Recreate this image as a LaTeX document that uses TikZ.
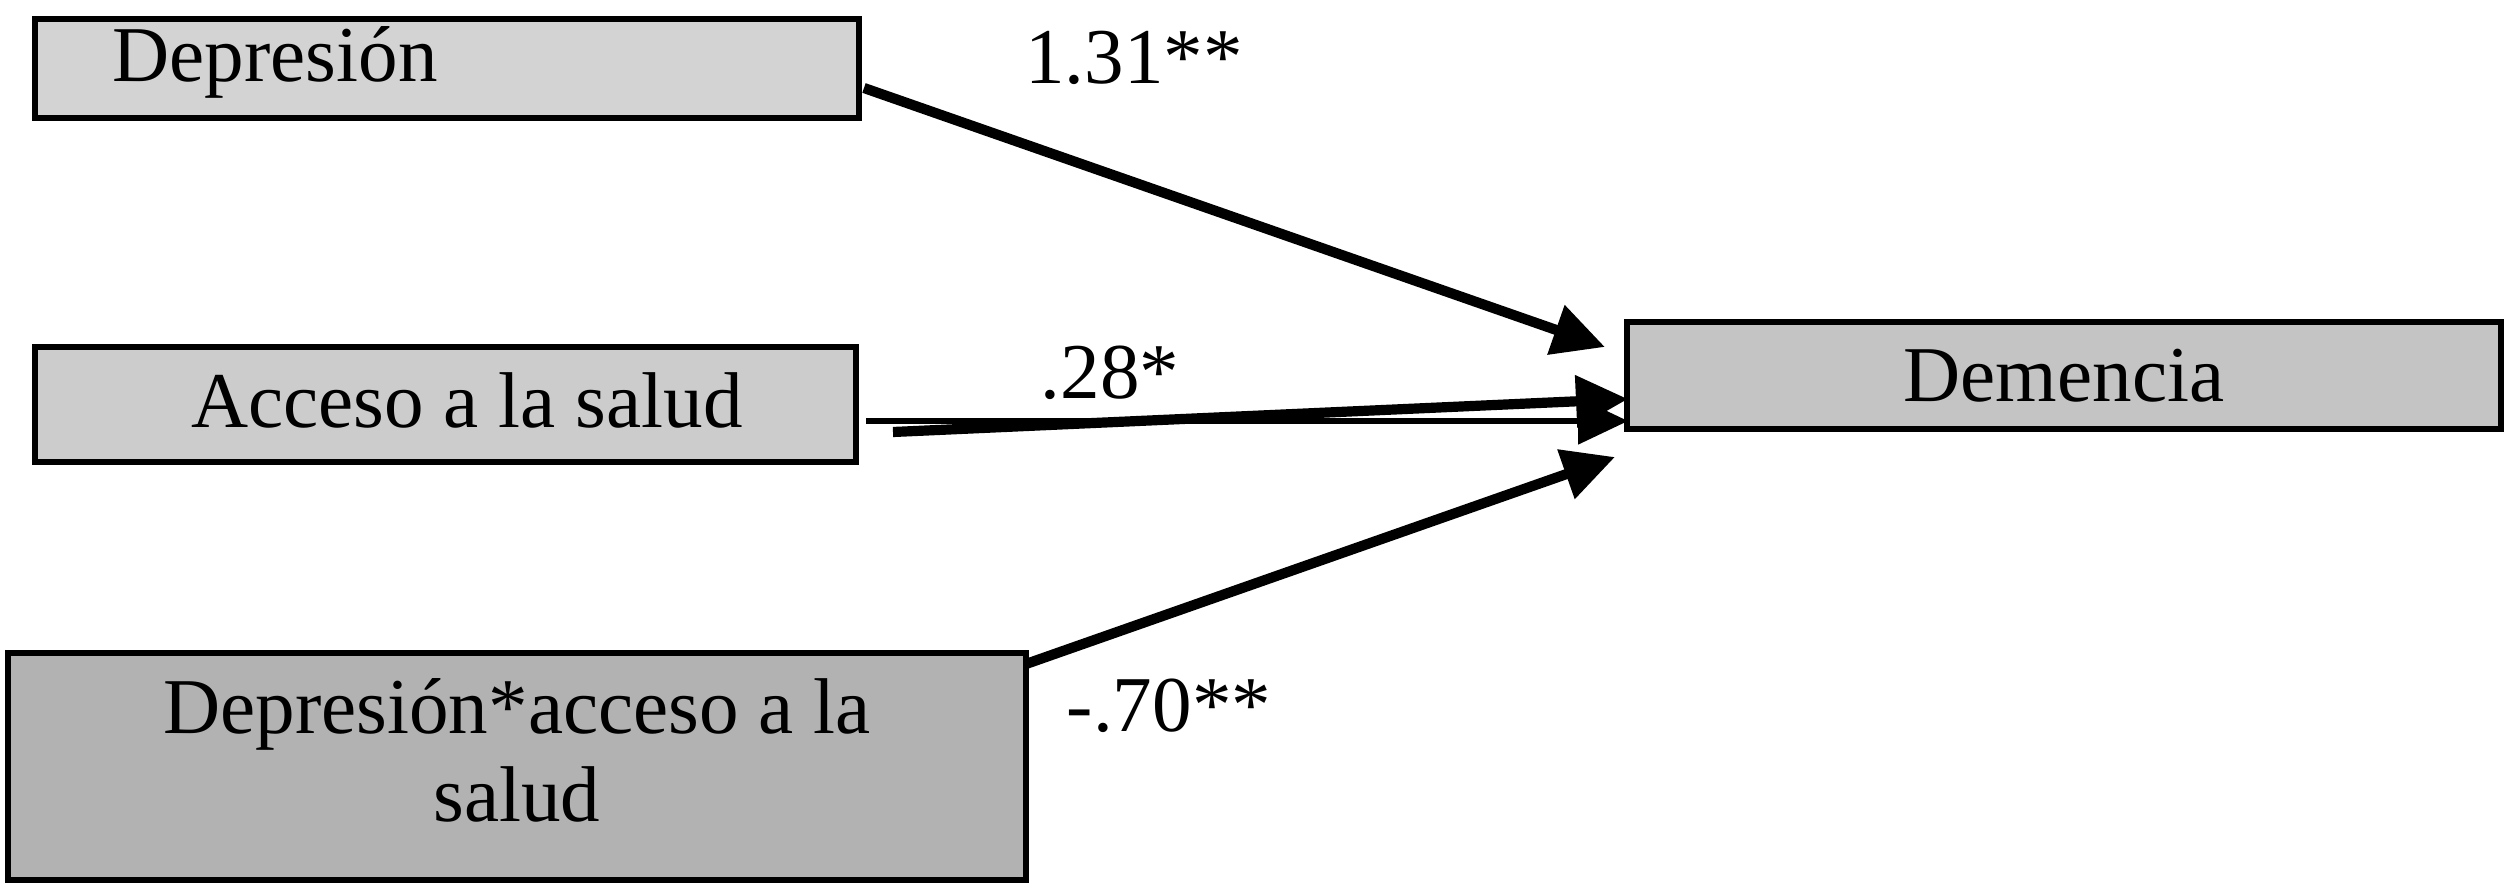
\documentclass[tikz,border=0pt]{standalone}
\usepackage{fontspec}
\setmainfont{Liberation Serif}
\usetikzlibrary{arrows.meta,calc}
\definecolor{boxA}{RGB}{211,211,211}
\definecolor{boxB}{RGB}{204,204,204}
\definecolor{boxC}{RGB}{196,196,196}
\definecolor{boxD}{RGB}{178,178,178}
\tikzset{
  varbox/.style={draw=black, line width=1.6pt, inner sep=0pt, rectangle},
  lbl/.style={font=\fontsize{22.5}{27}\selectfont, inner sep=0pt},
  pathline/.style={line width=2.9pt, -{Triangle[length=5.2mm,width=5mm]}},
  thinpath/.style={line width=1.5pt, -{Triangle[length=5mm,width=4.6mm]}}
}
\begin{document}
\begin{tikzpicture}[x=0.1mm,y=-0.1mm]
\useasboundingbox (0,0) rectangle (2508,888);
% boxes
\node[varbox, fill=boxA, minimum width=82.4mm, minimum height=9.9mm] (dep) at (447,68.5) {};
\node[lbl, anchor=west] (deptxt) at (112,62) {Depresión};
\node[varbox, fill=boxB, minimum width=82.1mm, minimum height=11.5mm] (acc) at (445.5,404.5) {};
\node[lbl] (acctxt) at (467,400) {Acceso a la salud};
\node[varbox, fill=boxD, minimum width=101.8mm, minimum height=22.7mm] (int) at (517,766.5) {};
\node[lbl, align=center] (inttxt) at (517,750) {Depresión*acceso a la\\[-2pt]salud};
\node[varbox, fill=boxC, minimum width=87.4mm, minimum height=10.7mm] (dem) at (2064,375.5) {};
\node[lbl] (demtxt) at (2064,376) {Demencia};
% connector end points
\coordinate (d1) at (864,88);
\coordinate (t1) at (1605,347);
\coordinate (a1) at (866,421);
\coordinate (t2) at (1628,421);
\coordinate (a2) at (893,432);
\coordinate (t3) at (1628,399);
\coordinate (i1) at (1026,664);
\coordinate (t4) at (1615,457);
% connectors
\draw[pathline] (d1) -- (t1);
\draw[thinpath] (a1) -- (t2);
\draw[pathline] (a2) -- (t3);
\draw[pathline] (i1) -- (t4);
% coefficients
\node[lbl] (c1) at (1134,58) {1.31**};
\node[lbl] (c2) at (1110,373) {.28*};
\node[lbl] (c3) at (1169,706) {-.70**};
\end{tikzpicture}
\end{document}
